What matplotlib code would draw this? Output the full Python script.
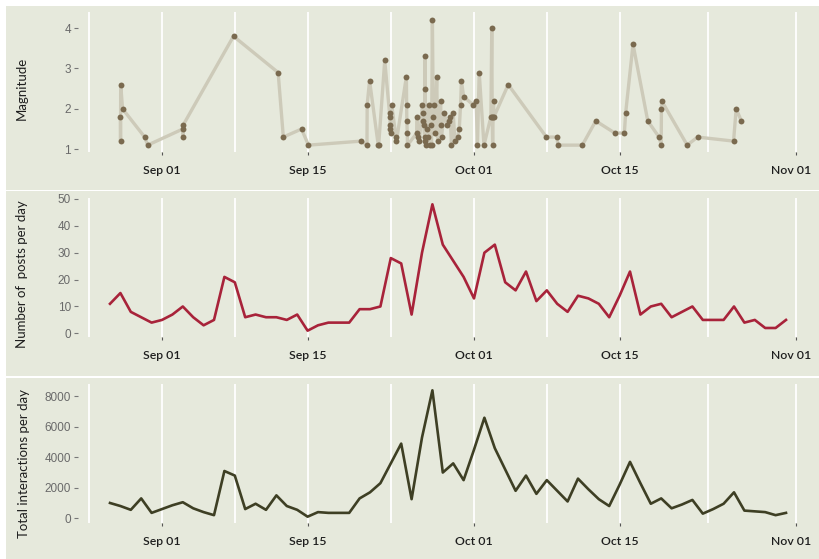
import numpy as np
import pandas as pd
import matplotlib
matplotlib.use("Agg")
import matplotlib.pyplot as plt
import matplotlib.dates as mdates
import matplotlib.transforms as mtransforms
from matplotlib.patches import Rectangle

# ---------------------------------------------------------------
# Data
# ---------------------------------------------------------------
YEAR = "2017"

# earthquake events: time and magnitude (top panel)
quake_time = [
    "08-28 00:00", "08-28 00:20", "08-28 00:40", "08-28 05:00", "08-30 08:00", "08-30 15:00",
    "09-03 00:00", "09-03 00:30", "09-03 01:00", "09-07 21:00", "09-12 04:00", "09-12 16:00",
    "09-14 10:00", "09-15 02:00", "09-20 04:00", "09-20 17:00", "09-20 17:30", "09-20 23:00",
    "09-21 19:00", "09-21 20:00", "09-22 10:00", "09-22 21:00", "09-22 22:00", "09-22 22:30",
    "09-22 23:00", "09-22 23:30", "09-23 02:00", "09-23 12:00", "09-23 13:00", "09-24 12:00",
    "09-24 12:30", "09-24 13:00", "09-24 14:00", "09-24 14:30", "09-25 12:00", "09-25 13:00",
    "09-25 14:00", "09-25 18:00", "09-26 01:00", "09-26 02:00", "09-26 03:00", "09-26 04:00",
    "09-26 06:00", "09-26 07:00", "09-26 07:30", "09-26 08:00", "09-26 10:00", "09-26 12:00",
    "09-26 14:00", "09-26 16:00", "09-26 18:00", "09-26 20:00", "09-26 22:00", "09-27 00:00",
    "09-27 02:00", "09-27 04:00", "09-27 06:00", "09-27 10:00", "09-27 12:00", "09-27 19:00",
    "09-27 20:00", "09-27 21:00", "09-28 03:00", "09-28 10:00", "09-28 14:00", "09-28 17:00",
    "09-28 20:00", "09-29 00:00", "09-29 04:00", "09-29 10:00", "09-29 14:00", "09-29 17:00",
    "09-29 19:00", "09-30 00:00", "09-30 22:00", "10-01 05:00", "10-01 08:00", "10-01 12:00",
    "10-01 23:00", "10-02 15:00", "10-02 17:00", "10-02 18:00", "10-02 19:00", "10-02 20:00",
    "10-02 21:00", "10-02 22:00", "10-04 07:00", "10-07 23:00", "10-08 23:00", "10-09 02:00",
    "10-11 10:00", "10-12 17:00", "10-14 13:00", "10-15 11:00", "10-15 14:00", "10-16 07:00",
    "10-17 17:00", "10-18 19:00", "10-19 00:00", "10-19 00:30", "10-19 01:00", "10-21 12:00",
    "10-22 12:00", "10-25 23:00", "10-26 05:00", "10-26 17:00",
]
quake_mag = [
    1.8, 1.2, 2.6, 2.0, 1.3, 1.1,
    1.5, 1.3, 1.6, 3.8, 2.9, 1.3,
    1.5, 1.1, 1.2, 1.1, 2.1, 2.7,
    1.1, 1.1, 3.2, 1.9, 1.8, 1.6,
    1.5, 1.4, 2.1, 1.3, 1.2, 2.8,
    2.1, 1.7, 1.4, 1.1, 1.4, 1.8,
    1.3, 1.2, 2.1, 1.9, 1.7, 1.6,
    1.3, 3.3, 2.5, 1.2, 1.1, 1.5,
    1.3, 2.1, 1.1, 1.6, 1.1, 4.2,
    1.8, 2.1, 1.4, 2.8, 1.2, 2.2,
    1.6, 1.3, 1.9, 1.6, 1.7, 1.8,
    1.1, 1.9, 1.2, 1.3, 1.5, 2.1,
    2.7, 2.3, 2.1, 2.2, 1.1, 2.9,
    1.1, 1.8, 4.0, 1.8, 1.1, 1.8,
    2.2, 1.8, 2.6, 1.3, 1.3, 1.1,
    1.1, 1.7, 1.4, 1.4, 1.9, 3.6,
    1.7, 1.3, 1.1, 2.0, 2.2, 1.1,
    1.3, 1.2, 2.0, 1.7,
]

# daily series, Aug 27 .. Oct 31
day_start, day_end = YEAR + "-08-27", YEAR + "-10-31"
posts_per_day = [
    11, 15, 8, 6, 4,
    5, 7, 10, 6, 3, 5, 21, 19, 6, 7,
    6, 6, 5, 7, 1, 3, 4, 4, 4, 9,
    9, 10, 28, 26, 7, 30, 48, 33, 27, 21,
    13, 30, 33, 19, 16, 23, 12, 16, 11, 8,
    14, 13, 11, 6, 14, 23, 7, 10, 11, 6,
    8, 10, 5, 5, 5, 10, 4, 5, 2, 2, 5,
]
interactions_per_day = [
    1000, 800, 550, 1300, 350,
    600, 850, 1050, 650, 400, 200, 3100, 2800, 600, 950,
    550, 1500, 800, 550, 100, 400, 350, 350, 350, 1300,
    1700, 2300, 3600, 4900, 1250, 5300, 8400, 3000, 3600, 2500,
    4500, 6600, 4600, 3200, 1800, 2800, 1600, 2500, 1800, 1100,
    2600, 1900, 1250, 800, 2200, 3700, 2300, 950, 1300, 650,
    900, 1200, 300, 600, 950, 1700, 500, 450, 400, 200, 350,
]

major_ticks = ["09-01 00:00", "09-15 00:00", "10-01 00:00", "10-15 00:00", "11-01 00:00"]
minor_ticks = ["08-25 00:00", "09-08 00:00", "09-23 00:00", "10-08 00:00", "10-23 12:00"]

# ---------------------------------------------------------------
# Styling
# ---------------------------------------------------------------
W, H = 819, 559
BG = "#e6e9dc"
LINE_TOP = "#cdcab9"
PT_TOP = "#7a6a4f"
RED = "#a8233a"
OLIVE = "#3e3f24"

FMT = "%Y-%m-%d %H:%M"
quake_dt = pd.to_datetime([YEAR + "-" + t for t in quake_time], format=FMT)
days = pd.date_range(day_start, day_end, freq="D")
majors = pd.to_datetime([YEAR + "-" + t for t in major_ticks], format=FMT)
minors = pd.to_datetime([YEAR + "-" + t for t in minor_ticks], format=FMT)

# pixel -> date mapping measured on the reference (Sep 01 at x=162, 10.4 px/day)
sep1 = pd.Timestamp(YEAR + "-09-01")
x_left = sep1 + pd.Timedelta(days=(78 - 162) / 10.4)
x_right = sep1 + pd.Timedelta(days=(815 - 162) / 10.4)


def fig_box(x0, y0, x1, y1):
    # pixel box (top-left origin) -> figure fraction rect
    return [x0 / W, 1 - y1 / H, (x1 - x0) / W, (y1 - y0) / H]


fig = plt.figure(figsize=(W / 100, H / 100), dpi=100, facecolor="white")

# panel backgrounds with thin white gaps between them
for (y0, y1) in [(6, 189.5), (191, 376), (378, 559)]:
    b = fig_box(6, y0, W, y1)
    fig.patches.append(Rectangle((b[0], b[1]), b[2], b[3], transform=fig.transFigure,
                                 facecolor=BG, edgecolor="none", zorder=-10))

ax1 = fig.add_axes(fig_box(78, 12, 815, 152))
ax2 = fig.add_axes(fig_box(78, 198, 815, 337))
ax3 = fig.add_axes(fig_box(78, 384, 815, 523))

# top: magnitude
ax1.plot(quake_dt, quake_mag, color=LINE_TOP, lw=2.4, zorder=2)
ax1.scatter(quake_dt, quake_mag, s=18, color=PT_TOP, zorder=3, linewidths=0)
ax1.set_ylim(0.93, 4.40)
ax1.set_yticks([1, 2, 3, 4])

# middle: posts per day
ax2.plot(days, posts_per_day, color=RED, lw=1.9, zorder=2)
ax2.set_ylim(-1.35, 50.35)
ax2.set_yticks([0, 10, 20, 30, 40, 50])

# bottom: interactions per day
ax3.plot(days, interactions_per_day, color=OLIVE, lw=1.9, zorder=2)
ax3.set_ylim(-315, 8815)
ax3.set_yticks([0, 2000, 4000, 6000, 8000])

# last date label sits a little left of its tick in the reference
nudge = mtransforms.ScaledTranslation(-5 / 100, 0, fig.dpi_scale_trans)

for ax in (ax1, ax2, ax3):
    ax.set_facecolor(BG)
    for s in ax.spines.values():
        s.set_visible(False)
    ax.set_xlim(x_left, x_right)
    ax.set_xticks(majors)
    ax.set_xticks(minors, minor=True)
    ax.xaxis.set_major_formatter(mdates.DateFormatter("%b %d"))
    ax.grid(True, axis="x", which="both", color="white", lw=1.3)
    ax.set_axisbelow(True)
    ax.tick_params(axis="x", which="major", length=2.5, width=0.8, color="#555555",
                   labelsize=8.8, labelcolor="#1e1e1e", pad=7)
    ax.tick_params(axis="x", which="minor", length=0)
    ax.tick_params(axis="y", length=3, width=0.8, color="#777777",
                   labelsize=8.5, labelcolor="#6a6a6a", pad=2)
    for lab in ax.get_xticklabels():
        lab.set_fontfamily("Lato")
        lab.set_fontweight("semibold")
    last = ax.get_xticklabels()[-1]
    last.set_transform(last.get_transform() + nudge)
    for lab in ax.get_yticklabels():
        lab.set_fontfamily("Liberation Sans")

# y-axis titles
for (x, y, txt) in [(22, 88, "Magnitude"),
                    (22, 274, "Number of  posts per day"),
                    (24, 464, "Total interactions per day")]:
    fig.text(x / W, 1 - y / H, txt, rotation=90, ha="center", va="center",
             fontsize=9.5, family="Lato", color="#1e1e1e")

fig.savefig("out.png", dpi=100, facecolor="white")
